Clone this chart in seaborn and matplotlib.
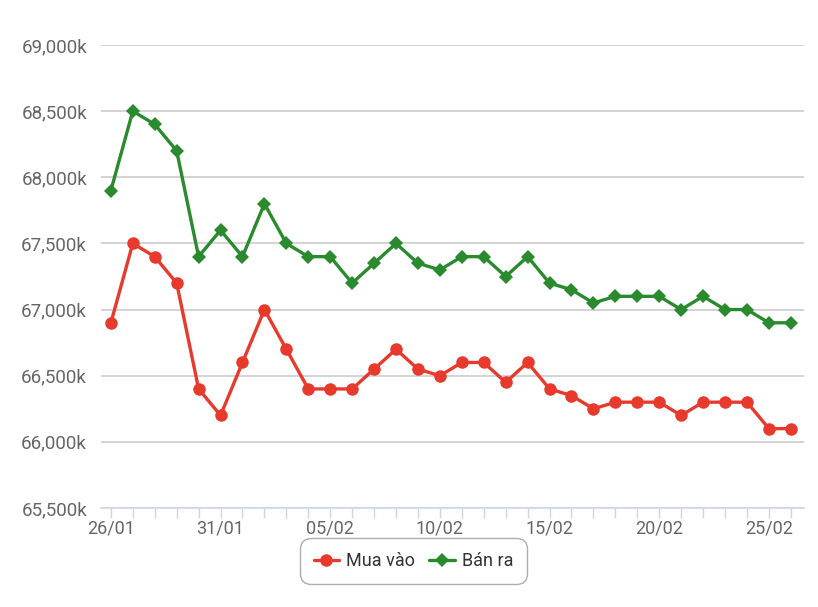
import matplotlib
matplotlib.use("Agg")
import matplotlib.pyplot as plt
import seaborn as sns
import pandas as pd
import numpy as np
from matplotlib.ticker import FuncFormatter, MultipleLocator, FixedLocator

dates = ["26/01", "27/01", "28/01", "29/01", "30/01", "31/01",
         "01/02", "02/02", "03/02", "04/02", "05/02", "06/02", "07/02", "08/02",
         "09/02", "10/02", "11/02", "12/02", "13/02", "14/02", "15/02", "16/02",
         "17/02", "18/02", "19/02", "20/02", "21/02", "22/02", "23/02", "24/02",
         "25/02", "26/02"]
mua_vao = [66900, 67500, 67400, 67200, 66400, 66200, 66600, 67000, 66700, 66400,
           66400, 66400, 66550, 66700, 66550, 66500, 66600, 66600, 66450, 66600,
           66400, 66350, 66250, 66300, 66300, 66300, 66200, 66300, 66300, 66300,
           66100, 66100]
ban_ra = [67900, 68500, 68400, 68200, 67400, 67600, 67400, 67800, 67500, 67400,
          67400, 67200, 67350, 67500, 67350, 67300, 67400, 67400, 67250, 67400,
          67200, 67150, 67050, 67100, 67100, 67100, 67000, 67100, 67000, 67000,
          66900, 66900]
series_names = ["Mua vào", "Bán ra"]
colors = ["#e8392d", "#2a8a2e"]

sns.set_theme(style="white")
plt.rcParams["font.family"] = ["Roboto", "DejaVu Sans"]

df = pd.DataFrame({
    "idx": list(range(len(dates))) * 2,
    "date": dates * 2,
    "value": mua_vao + ban_ra,
    "series": [series_names[0]] * len(dates) + [series_names[1]] * len(dates),
})

fig = plt.figure(figsize=(8.18, 6.07), dpi=100)
ax = fig.add_axes([101 / 818, 1 - 508 / 607, (804 - 101) / 818, (508 - 45) / 607])

sns.lineplot(data=df, x="idx", y="value", hue="series", style="series",
             markers={"Mua vào": "o", "Bán ra": "D"}, dashes=False,
             palette=dict(zip(series_names, colors)), linewidth=2.4,
             markersize=9, markeredgewidth=0, ax=ax, legend=False)
# make diamonds slightly smaller
for line in ax.get_lines():
    if line.get_marker() == "D":
        line.set_markersize(7)

ax.set_xlim(-0.45, 31.6)
ax.set_ylim(65500, 69000)
ax.yaxis.set_major_locator(MultipleLocator(500))
ax.yaxis.set_major_formatter(FuncFormatter(lambda v, p: f"{int(v):,}k"))
ax.grid(axis="y", color="#cccccc", linewidth=1.2)
ax.set_axisbelow(True)
ax.xaxis.set_major_locator(FixedLocator(list(range(0, len(dates), 5))))
ax.set_xticklabels([dates[i] for i in range(0, len(dates), 5)])
ax.xaxis.set_minor_locator(FixedLocator(list(range(len(dates)))))
ax.tick_params(axis="x", which="both", bottom=True, length=7, width=1,
               color="#ccd6eb", labelsize=13, labelcolor="#666666", pad=1)
ax.tick_params(axis="y", length=0, labelsize=13.5, labelcolor="#666666", pad=10)
ax.set_xlabel("")
ax.set_ylabel("")
for s in ["top", "right", "left"]:
    ax.spines[s].set_visible(False)
ax.spines["bottom"].set_color("#ccd6eb")
ax.spines["bottom"].set_linewidth(1.2)

from matplotlib.lines import Line2D
handles = [Line2D([], [], color=colors[0], marker="o", markersize=9, linewidth=2.4, markeredgewidth=0),
           Line2D([], [], color=colors[1], marker="D", markersize=7, linewidth=2.4, markeredgewidth=0)]
leg = fig.legend(handles, series_names, loc="center", bbox_to_anchor=(413.5 / 818, 1 - 561 / 607),
                 ncol=2, frameon=True, fontsize=13, handlelength=1.4, handletextpad=0.4,
                 columnspacing=0.8, borderpad=0.55, fancybox=True, labelcolor="#333333")
leg.get_frame().set_edgecolor("#999999")
leg.get_frame().set_linewidth(1.0)
leg.get_frame().set_boxstyle("round,pad=0.2,rounding_size=0.6")

fig.savefig("out.png", dpi=100)
